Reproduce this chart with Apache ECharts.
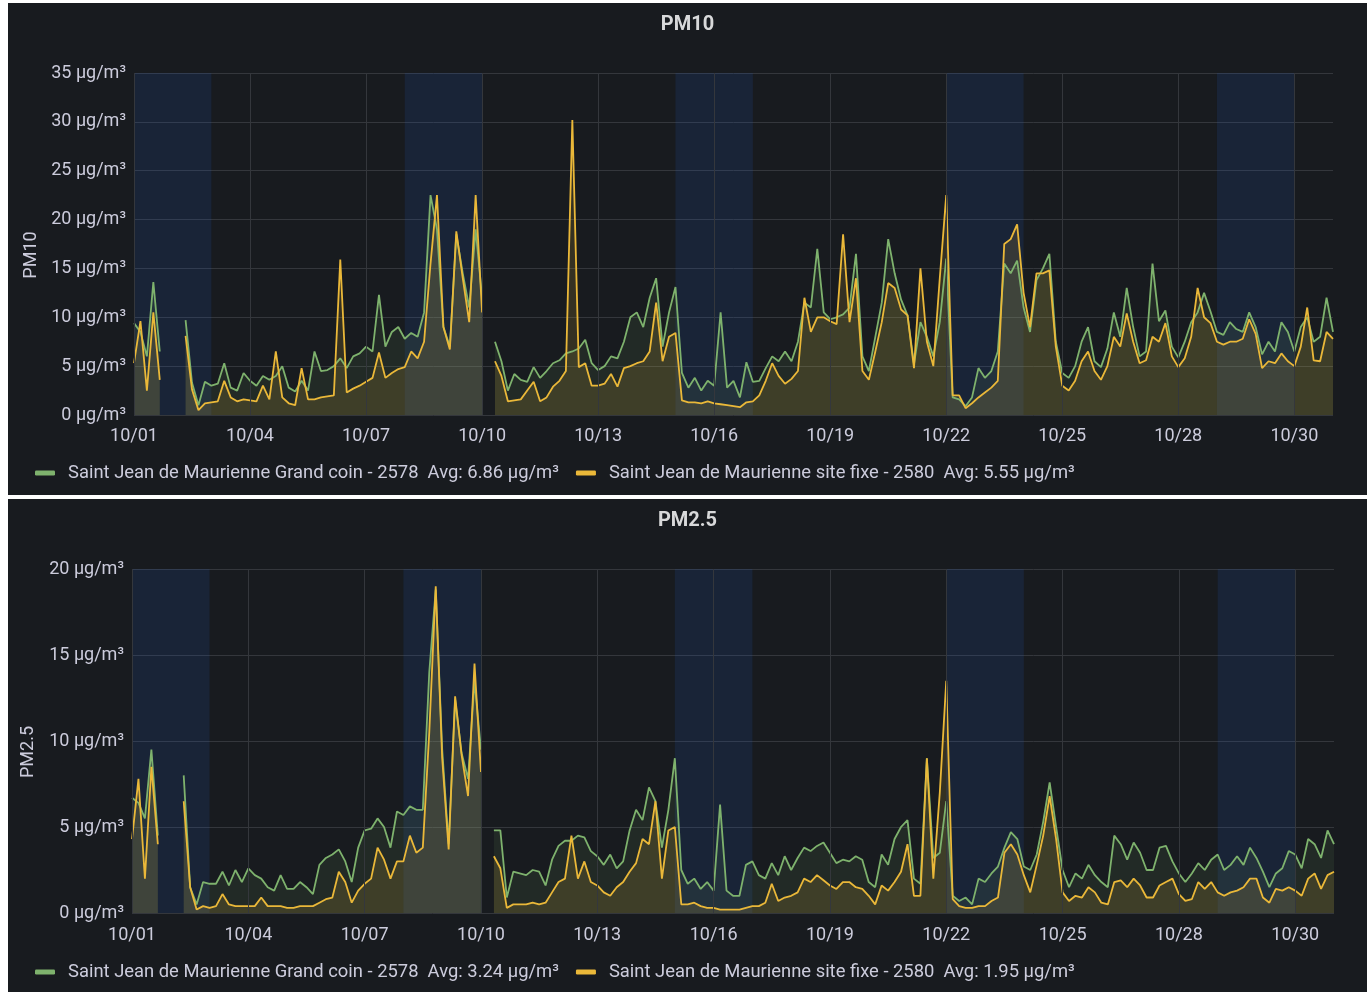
<!DOCTYPE html>
<html><head><meta charset="utf-8">
<script src="https://cdn.jsdelivr.net/npm/echarts@6/dist/echarts.min.js"></script>
<style>
html,body{margin:0;padding:0;background:#ffffff;width:1367px;height:992px;overflow:hidden}
#pm10{position:absolute;left:8px;top:3px;width:1359px;height:492px;background:#181b1f}
#pm25{position:absolute;left:8px;top:499px;width:1359px;height:493px;background:#181b1f}
</style></head><body>
<div id="pm10"></div><div id="pm25"></div>
<script>
// ---- data (one sample every 4 hours from 10/01 00:00, last sample at 11/01 00:00) ----
const STEP_HOURS = 4;
const xTickLabels = ['10/01','10/04','10/07','10/10','10/13','10/16','10/19','10/22','10/25','10/28','10/30'];
const weekendDays = [[0,2],[7,9],[14,16],[21,23],[28,30]];
const stationNames = ['Saint Jean de Maurienne Grand coin - 2578', 'Saint Jean de Maurienne site fixe - 2580'];
const pm10Avg = ['6.86', '5.55'];
const pm25Avg = ['3.24', '1.95'];

const pm10Green = [
 9.4, 8.5, 6.0, 13.6, 6.5, null,
 null, null, 9.7, 3.3, 1.0, 3.4,
 3.0, 3.2, 5.3, 2.8, 2.5, 4.3,
 3.5, 3.0, 4.0, 3.6, 4.0, 5.0,
 2.8, 2.4, 3.5, 2.5, 6.5, 4.5,
 4.6, 5.0, 5.8, 4.8, 6.0, 6.3,
 7.0, 6.5, 12.3, 7.0, 8.5, 9.0,
 7.8, 8.4, 8.0, 10.5, 22.5, 19.0,
 9.0, 7.0, 18.5, 14.5, 11.0, 19.0,
 12.0, null, 7.5, 5.5, 2.5, 4.2,
 3.6, 3.4, 4.9, 3.8, 4.5, 5.3,
 5.6, 6.3, 6.5, 6.8, 7.7, 5.3,
 4.6, 5.0, 6.0, 5.8, 7.5, 10.0,
 10.5, 9.0, 12.0, 14.0, 7.0, 10.5,
 13.1, 4.3, 2.8, 3.8, 2.5, 3.5,
 3.0, 10.5, 2.8, 3.5, 1.8, 5.4,
 3.4, 3.5, 4.8, 6.0, 5.5, 6.5,
 5.5, 7.5, 11.5, 11.0, 17.0, 10.5,
 9.8, 10.0, 10.3, 11.0, 16.5, 6.0,
 4.5, 8.0, 11.5, 18.0, 14.5, 11.8,
 10.2, 5.2, 9.5, 8.0, 6.0, 9.5,
 16.0, 1.8, 1.6, 0.9, 1.8, 4.8,
 3.8, 4.5, 6.5, 15.5, 14.5, 15.8,
 11.0, 8.5, 13.8, 15.0, 16.5, 7.5,
 4.3, 3.8, 5.0, 7.5, 9.0, 5.5,
 4.9, 6.8, 10.5, 8.0, 13.0, 9.0,
 6.0, 6.5, 15.5, 9.6, 10.7, 7.0,
 5.9, 7.5, 9.5, 10.5, 12.5, 10.6,
 8.5, 8.2, 9.5, 8.8, 8.5, 10.5,
 9.0, 6.2, 7.5, 6.5, 9.5, 8.5,
 6.5, 9.0, 10.0, 7.5, 8.0, 12.0,
 8.5
];
const pm10Yellow = [
 5.3, 9.6, 2.5, 10.5, 3.6, null,
 null, null, 8.1, 2.6, 0.5, 1.2,
 1.3, 1.4, 3.5, 1.8, 1.4, 1.6,
 1.5, 1.4, 3.0, 1.6, 6.5, 1.8,
 1.2, 1.0, 4.8, 1.6, 1.6, 1.8,
 1.9, 2.0, 15.9, 2.3, 2.7, 3.0,
 3.4, 3.8, 6.4, 3.8, 4.3, 4.7,
 4.9, 6.5, 5.8, 7.5, 15.5, 22.5,
 9.0, 6.7, 18.8, 14.0, 9.5, 22.5,
 10.5, null, 5.5, 4.0, 1.4, 1.5,
 1.6, 2.5, 3.4, 1.4, 1.8, 2.9,
 3.5, 4.5, 30.2, 4.9, 5.3, 3.0,
 3.0, 3.2, 4.2, 2.9, 4.8, 5.0,
 5.3, 5.5, 6.5, 11.5, 5.5, 8.0,
 8.4, 1.5, 1.3, 1.3, 1.2, 1.4,
 1.2, 1.1, 1.0, 0.9, 0.8, 1.3,
 1.4, 2.0, 3.5, 5.3, 4.0, 3.2,
 3.7, 4.5, 12.0, 8.5, 10.0, 10.0,
 9.6, 9.3, 18.5, 9.5, 14.0, 4.5,
 3.6, 6.5, 9.5, 13.5, 13.0, 10.8,
 10.2, 4.8, 15.0, 7.5, 5.0, 14.0,
 22.5, 2.0, 2.0, 0.7, 1.2, 1.8,
 2.3, 2.8, 3.5, 17.5, 18.0, 19.5,
 12.5, 9.0, 14.5, 14.5, 14.8, 7.0,
 3.0, 2.5, 3.5, 5.5, 6.5, 4.5,
 3.6, 5.0, 8.0, 7.0, 10.4, 7.5,
 5.3, 5.6, 8.0, 7.5, 9.4, 6.0,
 4.9, 5.8, 8.0, 13.0, 10.0, 9.4,
 7.5, 7.2, 7.5, 7.5, 7.8, 9.8,
 8.3, 4.8, 5.5, 5.3, 6.3, 5.5,
 5.0, 7.0, 11.0, 5.6, 5.5, 8.5,
 7.8
];
const pm25Green = [
 6.7, 6.4, 5.5, 9.5, 4.5, null,
 null, null, 8.0, 1.5, 0.5, 1.8,
 1.7, 1.7, 2.4, 1.6, 2.5, 1.8,
 2.6, 2.2, 2.0, 1.5, 1.3, 2.2,
 1.4, 1.4, 1.8, 1.5, 1.1, 2.8,
 3.2, 3.4, 3.7, 3.0, 1.8, 3.8,
 4.8, 4.9, 5.5, 5.0, 3.8, 5.9,
 5.7, 6.2, 6.0, 6.0, 14.0, 18.8,
 9.5, 4.0, 12.4, 9.3, 7.8, 13.5,
 9.5, null, 4.8, 4.8, 0.9, 2.4,
 2.3, 2.2, 2.5, 2.4, 1.6, 3.1,
 3.9, 4.2, 4.2, 4.5, 4.4, 3.6,
 3.3, 2.8, 3.4, 2.6, 3.0, 4.8,
 6.0, 5.4, 7.3, 6.5, 3.8, 6.0,
 9.0, 2.5, 1.7, 2.0, 1.4, 1.8,
 1.3, 6.3, 1.3, 1.0, 1.0, 2.8,
 3.0, 2.2, 2.0, 2.9, 2.2, 3.3,
 2.5, 3.2, 3.8, 3.6, 3.9, 4.1,
 3.5, 2.9, 3.1, 3.0, 3.3, 3.1,
 1.8, 1.5, 3.4, 2.8, 4.3, 5.0,
 5.4, 2.0, 1.7, 9.0, 3.2, 3.5,
 6.5, 1.0, 0.7, 0.9, 0.5, 2.0,
 1.8, 2.3, 2.7, 3.8, 4.7, 4.3,
 2.7, 2.5, 3.4, 5.3, 7.6, 5.0,
 2.5, 1.5, 2.3, 2.0, 2.8, 2.2,
 1.8, 1.5, 4.5, 4.0, 3.1, 4.1,
 3.5, 2.5, 2.5, 3.8, 3.9, 3.0,
 2.3, 1.8, 2.3, 2.9, 2.5, 3.1,
 3.4, 2.5, 2.8, 3.3, 2.8, 3.8,
 3.2, 2.4, 1.5, 2.3, 2.6, 3.6,
 3.4, 2.6, 4.3, 4.0, 3.2, 4.8,
 4.0
];
const pm25Yellow = [
 4.3, 7.8, 2.0, 8.5, 4.0, null,
 null, null, 6.5, 1.5, 0.2, 0.4,
 0.3, 0.4, 1.1, 0.5, 0.4, 0.4,
 0.4, 0.4, 0.9, 0.4, 0.4, 0.4,
 0.3, 0.3, 0.4, 0.4, 0.4, 0.6,
 0.8, 0.9, 2.4, 1.8, 0.6, 1.3,
 1.7, 2.0, 3.8, 3.1, 2.0, 3.0,
 3.0, 4.5, 3.5, 3.8, 10.5, 19.0,
 9.0, 3.7, 12.6, 9.2, 6.8, 14.5,
 8.2, null, 3.3, 2.6, 0.3, 0.5,
 0.5, 0.5, 0.6, 0.5, 0.6, 1.2,
 1.8, 2.0, 4.5, 2.0, 3.0, 1.8,
 1.6, 1.2, 1.0, 1.5, 1.8, 2.4,
 2.9, 4.3, 4.0, 6.5, 2.0, 4.8,
 5.0, 0.5, 0.5, 0.6, 0.4, 0.3,
 0.3, 0.2, 0.2, 0.2, 0.2, 0.3,
 0.4, 0.4, 0.6, 1.7, 0.7, 0.9,
 1.0, 1.2, 2.0, 1.8, 2.2, 1.9,
 1.6, 1.4, 1.8, 1.8, 1.5, 1.4,
 1.0, 0.5, 1.6, 1.3, 1.8, 2.4,
 4.0, 1.0, 1.0, 9.0, 2.0, 7.0,
 13.5, 0.8, 0.4, 0.3, 0.3, 0.4,
 0.4, 0.7, 0.9, 3.5, 4.0, 3.4,
 2.2, 1.2, 2.8, 4.5, 6.8, 4.3,
 1.2, 0.7, 1.0, 0.9, 1.5, 1.2,
 0.6, 0.5, 1.8, 1.9, 1.5, 2.0,
 1.6, 0.9, 0.9, 1.6, 1.8, 2.0,
 1.1, 0.7, 0.8, 1.8, 1.4, 1.8,
 1.2, 1.0, 1.2, 1.3, 1.5, 2.0,
 2.0, 0.9, 0.6, 1.4, 1.3, 1.5,
 1.3, 1.0, 2.0, 2.3, 1.4, 2.2,
 2.4
];

// ---- styling ----
const GREEN = '#7EB26D', YELLOW = '#EAB839';
const TEXT = '#ccccdc', GRIDC = '#34373c';
const FONT = 'Roboto, "Noto Sans", sans-serif';

function pairs(arr) { return arr.map((v, i) => [i * STEP_HOURS / 24, v]); }

function buildOption(p) {
  const avgByName = {};
  stationNames.forEach((n, i) => avgByName[n] = p.avg[i]);
  const lineSeries = (name, arr, color, fillOpacity) => ({
    name, type: 'line', data: pairs(arr), symbol: 'none', showSymbol: false,
    connectNulls: false, z: 3,
    lineStyle: { color, width: 1.8 }, itemStyle: { color },
    areaStyle: { color, opacity: fillOpacity }
  });
  return {
    backgroundColor: '#181b1f',
    animation: false,
    title: { text: p.title, left: 'center', top: 7,
      textStyle: { color: '#d8d9da', fontSize: 20, fontWeight: 'bold', fontFamily: FONT } },
    legend: {
      left: 22, top: p.legendTop, icon: 'roundRect', itemWidth: 20, itemHeight: 5, itemGap: 17,
      data: stationNames,
      formatter: n => n + '  Avg: ' + avgByName[n] + ' µg/m³',
      textStyle: { color: TEXT, fontSize: 18.4, fontFamily: FONT, padding: [0, 0, 0, 8] }
    },
    grid: { left: p.left, right: p.right, top: p.top, bottom: p.bottom },
    xAxis: {
      type: 'value', min: 0, max: 31, interval: 3,
      axisLine: { show: false }, axisTick: { show: false }, splitLine: { show: false },
      axisLabel: { color: TEXT, fontSize: 18, fontFamily: FONT, margin: p.xMargin,
        formatter: v => { const k = v / 3; return (Number.isInteger(k) && k < xTickLabels.length) ? xTickLabels[k] : ''; } }
    },
    yAxis: {
      type: 'value', min: 0, max: p.yMax, interval: 5,
      name: p.yName, nameLocation: 'middle', nameRotate: 90, nameGap: p.nameGap,
      nameTextStyle: { color: TEXT, fontSize: 18, fontFamily: FONT, padding: [0, 22, 0, 0] },
      axisLine: { show: false }, axisTick: { show: false },
      splitLine: { lineStyle: { color: GRIDC, width: 1 } },
      axisLabel: { color: TEXT, fontSize: 18, fontFamily: FONT, margin: 8, formatter: v => v + ' µg/m³' }
    },
    series: [
      { type: 'line', data: [], z: 1, silent: true,
        markArea: { silent: true, itemStyle: { color: 'rgba(31,96,196,0.15)' },
          data: weekendDays.map(w => [{ xAxis: w[0] }, { xAxis: w[1] }]) },
        markLine: { silent: true, symbol: ['none', 'none'], label: { show: false },
          lineStyle: { color: GRIDC, type: 'solid', width: 1 },
          data: xTickLabels.map((t, i) => ({ xAxis: i * 3 })) } },
      lineSeries(stationNames[0], p.green, GREEN, 0.10),
      lineSeries(stationNames[1], p.yellow, YELLOW, 0.14)
    ]
  };
}

const c1 = echarts.init(document.getElementById('pm10'), null, { renderer: 'canvas' });
c1.setOption(buildOption({ title: 'PM10', yName: 'PM10', yMax: 35, avg: pm10Avg,
  green: pm10Green, yellow: pm10Yellow, left: 126, right: 34, top: 70, bottom: 80,
  legendTop: 456, nameGap: 94, xMargin: 12 }));
const c2 = echarts.init(document.getElementById('pm25'), null, { renderer: 'canvas' });
c2.setOption(buildOption({ title: 'PM2.5', yName: 'PM2.5', yMax: 20, avg: pm25Avg,
  green: pm25Green, yellow: pm25Yellow, left: 124, right: 33, top: 70, bottom: 79,
  legendTop: 459, nameGap: 95, xMargin: 13 }));
</script></body></html>
